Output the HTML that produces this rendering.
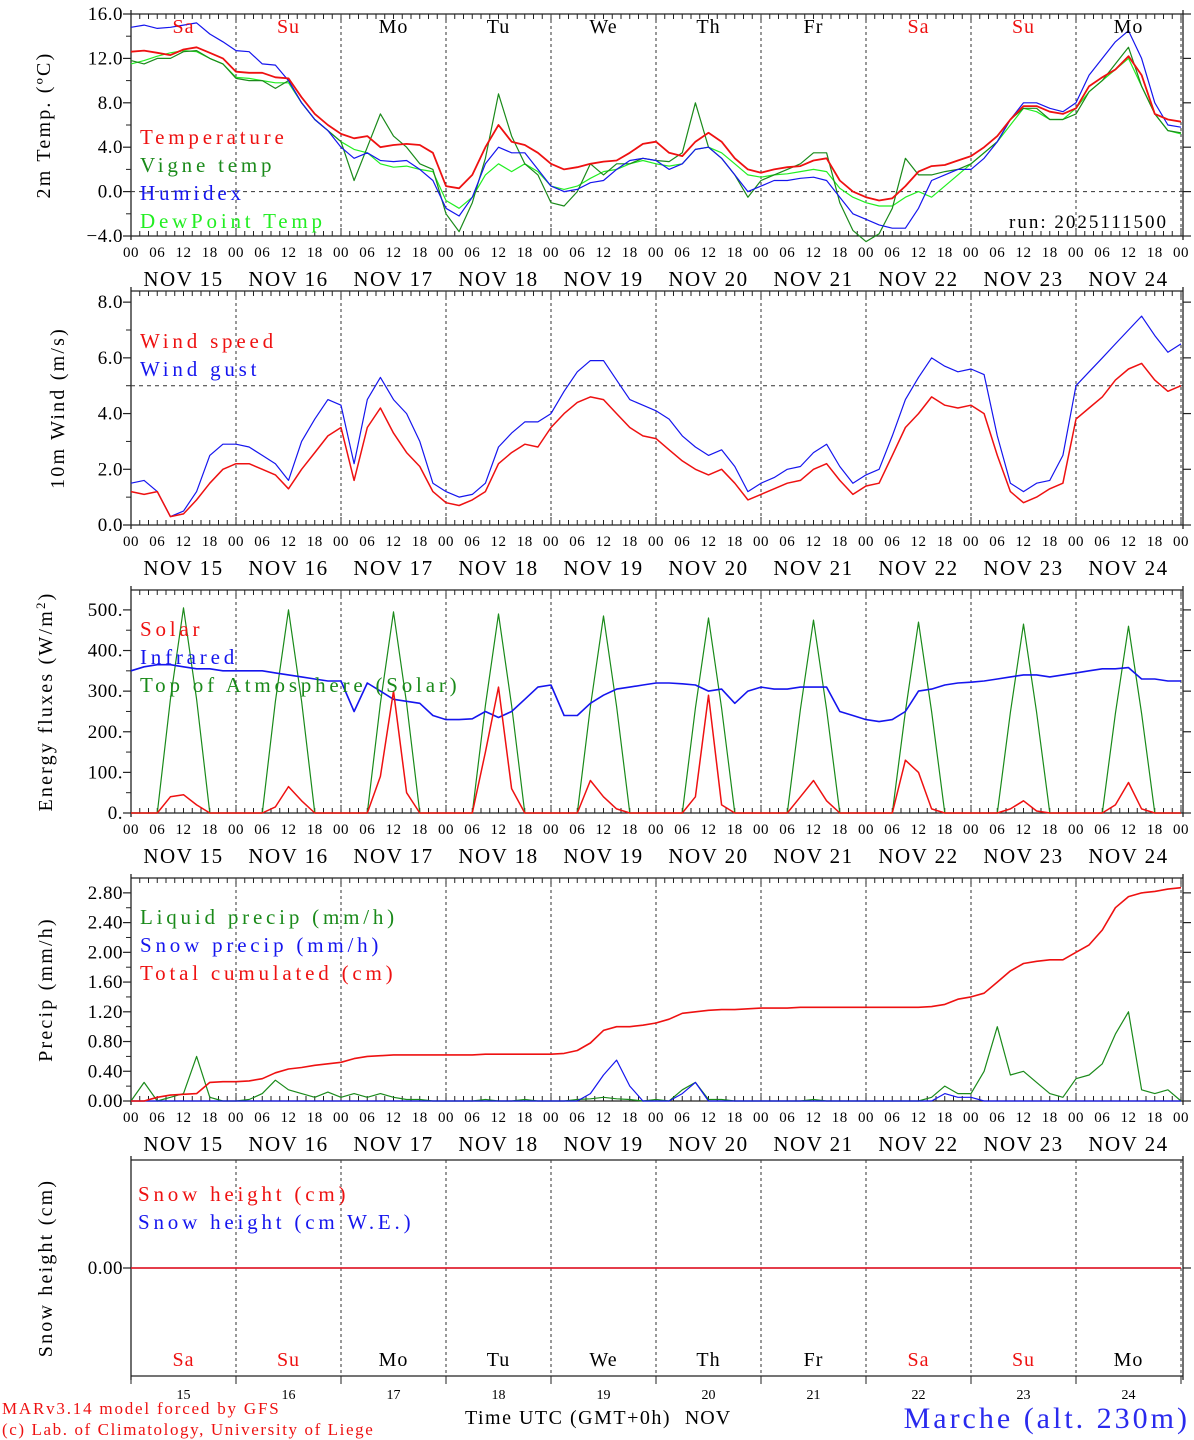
<!DOCTYPE html>
<html><head><meta charset="utf-8"><style>
body{margin:0;background:#fff;width:1194px;height:1440px;overflow:hidden}
svg{display:block}
text{font-family:"Liberation Serif","DejaVu Serif",serif}
</style></head><body>
<svg id="chart" width="1194" height="1440" xmlns="http://www.w3.org/2000/svg"></svg>
<script>
// ---- data (3-hourly, Nov 15 00UTC -> Nov 25 00UTC) ----
const days = ["15","16","17","18","19","20","21","22","23","24"];
const dayNames = ["Sa","Su","Mo","Tu","We","Th","Fr","Sa","Su","Mo"];
const temperature = [12.6,12.7,12.5,12.3,12.8,13.0,12.5,12.0, 10.8,10.7,10.7,10.3,10.2,8.5,7.0,6.0, 5.2,4.8,5.0,4.0,4.2,4.3,4.2,3.5, 0.5,0.3,1.5,4.0,6.0,4.5,4.2,3.5, 2.5,2.0,2.2,2.5,2.7,2.8,3.5,4.3, 4.5,3.5,3.2,4.5,5.3,4.5,3.0,2.0, 1.7,2.0,2.2,2.3,2.8,3.0,1.0,0.0, -0.5,-0.8,-0.6,0.5,1.8,2.3,2.4,2.8, 3.2,4.0,5.0,6.5,7.7,7.7,7.2,7.0, 7.5,9.5,10.3,11.0,12.2,10.5,7.0,6.5,6.3];
const vigneTemp = [11.8,11.5,12.0,12.0,12.6,12.7,12.0,11.5, 10.2,10.0,10.0,9.3,10.0,8.0,6.5,5.5, 4.5,1.0,4.0,7.0,5.0,4.0,2.5,2.0, -2.0,-3.6,-1.0,3.0,8.8,5.0,2.5,1.5, -1.0,-1.3,0.0,2.5,1.5,2.5,2.5,3.0, 2.8,2.7,3.5,8.0,4.0,3.0,1.5,-0.5, 1.0,1.5,2.0,2.5,3.5,3.5,-1.0,-3.5, -4.5,-3.8,-1.5,3.0,1.5,1.5,1.8,2.0, 2.5,3.5,4.5,6.5,7.5,7.5,6.5,6.5, 7.0,9.0,10.0,11.5,13.0,9.5,7.0,5.5,5.3];
const humidex = [14.8,15.0,14.7,14.8,15.0,15.2,14.2,13.5, 12.7,12.6,11.5,11.4,10.0,8.0,6.5,5.5, 4.0,3.0,3.5,2.8,2.7,2.8,2.0,1.0, -1.5,-2.2,-0.5,2.5,4.0,3.5,3.5,2.0, 0.5,0.0,0.2,0.8,1.0,2.0,2.8,3.0, 2.8,2.0,2.5,3.8,4.0,3.0,1.5,0.0, 0.5,1.0,1.0,1.2,1.3,1.0,-0.5,-2.0, -2.5,-3.0,-3.3,-3.3,-1.5,1.0,1.5,2.0, 2.0,3.0,4.5,6.5,8.0,8.0,7.5,7.2, 8.0,10.5,12.0,13.5,14.5,12.0,8.0,6.0,5.8];
const dewPoint = [11.5,11.8,12.2,12.5,12.7,12.6,12.0,11.5, 10.3,10.2,10.0,9.8,9.8,8.0,6.5,5.5, 4.5,3.8,3.5,2.5,2.2,2.3,2.0,1.8, -0.8,-1.5,-0.5,1.5,2.5,1.8,2.5,1.8, 0.5,0.2,0.5,1.2,1.8,2.0,2.5,2.8, 2.5,2.3,2.5,3.8,4.0,3.5,2.5,1.5, 1.3,1.5,1.6,1.8,2.0,1.8,0.3,-0.5, -1.0,-1.3,-1.3,-0.5,0.0,-0.5,0.5,1.5, 2.5,3.5,4.5,6.0,7.5,7.2,6.5,6.5, 7.5,9.0,10.0,11.0,12.0,9.5,7.0,5.5,5.2];
const windSpeed = [1.2,1.1,1.2,0.3,0.4,0.9,1.5,2.0, 2.2,2.2,2.0,1.8,1.3,2.0,2.6,3.2, 3.5,1.6,3.5,4.2,3.3,2.6,2.1,1.2, 0.8,0.7,0.9,1.2,2.2,2.6,2.9,2.8, 3.5,4.0,4.4,4.6,4.5,4.0,3.5,3.2, 3.1,2.7,2.3,2.0,1.8,2.0,1.5,0.9, 1.1,1.3,1.5,1.6,2.0,2.2,1.6,1.1, 1.4,1.5,2.5,3.5,4.0,4.6,4.3,4.2, 4.3,4.0,2.5,1.2,0.8,1.0,1.3,1.5, 3.8,4.2,4.6,5.2,5.6,5.8,5.2,4.8,5.0];
const windGust = [1.5,1.6,1.2,0.3,0.5,1.2,2.5,2.9, 2.9,2.8,2.5,2.2,1.6,3.0,3.8,4.5, 4.3,2.2,4.5,5.3,4.5,4.0,3.0,1.5, 1.2,1.0,1.1,1.5,2.8,3.3,3.7,3.7, 4.0,4.8,5.5,5.9,5.9,5.2,4.5,4.3, 4.1,3.8,3.2,2.8,2.5,2.7,2.1,1.2, 1.5,1.7,2.0,2.1,2.6,2.9,2.1,1.5, 1.8,2.0,3.2,4.5,5.3,6.0,5.7,5.5, 5.6,5.4,3.2,1.5,1.2,1.5,1.6,2.5, 5.0,5.5,6.0,6.5,7.0,7.5,6.8,6.2,6.5];
const solar = [0,0,0,40,45,20,0,0, 0,0,0,15,65,30,0,0, 0,0,0,90,300,50,0,0, 0,0,0,150,310,60,0,0, 0,0,0,80,40,10,0,0, 0,0,0,40,290,20,0,0, 0,0,0,40,80,30,0,0, 0,0,0,130,100,10,0,0, 0,0,0,10,30,5,0,0, 0,0,0,20,75,10,0,0,0];
const infrared = [350,360,365,365,360,355,355,350, 350,350,350,345,340,335,330,325, 325,250,320,300,280,275,270,240, 230,230,232,250,235,250,280,310, 315,240,240,270,290,305,310,315, 320,320,318,315,300,305,270,300, 310,305,305,310,310,310,250,240, 230,225,230,250,300,305,315,320, 322,325,330,335,340,340,335,340, 345,350,355,355,358,330,330,325,325];
const toaSolar = [0,0,0,280,505,280,0,0, 0,0,0,275,500,275,0,0, 0,0,0,270,495,270,0,0, 0,0,0,265,490,265,0,0, 0,0,0,262,485,262,0,0, 0,0,0,258,480,258,0,0, 0,0,0,255,475,255,0,0, 0,0,0,250,470,250,0,0, 0,0,0,248,465,248,0,0, 0,0,0,245,460,245,0,0,0];
const liquidPrecip = [0,0.25,0,0.05,0.1,0.6,0.05,0, 0,0.02,0.1,0.28,0.15,0.1,0.05,0.12, 0.05,0.1,0.05,0.1,0.05,0.02,0.02,0, 0,0,0,0.02,0,0,0.02,0, 0,0,0.02,0.03,0.05,0.03,0.02,0, 0.02,0,0.15,0.25,0.02,0.02,0,0, 0,0,0,0,0.02,0,0,0, 0,0,0,0,0,0.05,0.2,0.1, 0.1,0.4,1.0,0.35,0.4,0.25,0.1,0.05, 0.3,0.35,0.5,0.9,1.2,0.15,0.1,0.15,0];
const snowPrecip = [0,0,0,0,0,0,0,0, 0,0,0,0,0,0,0,0, 0,0,0,0,0,0,0,0, 0,0,0,0,0,0,0,0, 0,0,0,0.1,0.35,0.55,0.2,0, 0,0,0.1,0.25,0,0,0,0, 0,0,0,0,0,0,0,0, 0,0,0,0,0,0,0.1,0.05, 0.05,0,0,0,0,0,0,0, 0,0,0,0,0,0,0,0,0];
const totalCum = [0,0,0.05,0.08,0.09,0.1,0.25,0.26, 0.26,0.27,0.3,0.38,0.43,0.45,0.48,0.5, 0.52,0.57,0.6,0.61,0.62,0.62,0.62,0.62, 0.62,0.62,0.62,0.63,0.63,0.63,0.63,0.63, 0.63,0.64,0.68,0.78,0.95,1.0,1.0,1.02, 1.05,1.1,1.18,1.2,1.22,1.23,1.23,1.24, 1.25,1.25,1.25,1.26,1.26,1.26,1.26,1.26, 1.26,1.26,1.26,1.26,1.26,1.27,1.3,1.37, 1.4,1.45,1.6,1.75,1.85,1.88,1.9,1.9, 2.0,2.1,2.3,2.6,2.75,2.8,2.82,2.85,2.87];
const snowHeight = new Array(81).fill(0);
const snowHeightWE = new Array(81).fill(0);

// ---- drawing ----
const svg = document.getElementById('chart');
const NS = 'http://www.w3.org/2000/svg';
const X0 = 131, X1 = 1181, STEP = 3;
function xs(h){ return X0 + h*(X1-X0)/240; }
function mk(tag, attrs, parent){
  const e = document.createElementNS(NS, tag);
  for (const k in attrs) e.setAttribute(k, attrs[k]);
  (parent||svg).appendChild(e);
  return e;
}
function txt(s, x, y, size, color, anchor, ls, parent){
  const t = mk('text', {x:x, y:y, 'font-size':size, fill:color||'#000', 'text-anchor':anchor||'start'}, parent);
  if (ls) t.setAttribute('letter-spacing', ls);
  t.textContent = s;
  return t;
}
function panel(p){
  const g = mk('g', {});
  
  
  const ys = v => p.bottom - (v - p.min)*(p.bottom - p.top)/(p.max - p.min);
  mk('line',{x1:X0,y1:p.top,x2:1183,y2:p.top,stroke:'#222','stroke-width':1.3},g);
  mk('line',{x1:X0,y1:p.bottom,x2:1183,y2:p.bottom,stroke:'#222','stroke-width':1.3},g);
  mk('line',{x1:X0,y1:p.top-4,x2:X0,y2:p.bottom+4,stroke:'#222','stroke-width':1.3},g);
  mk('line',{x1:1183,y1:p.top-4,x2:1183,y2:p.bottom+4,stroke:'#222','stroke-width':1.3},g);
  if (p.hourTicks){
    for (let h=0; h<=240; h+=2){
      const x = xs(h), L = h%24===0?8:5;
      mk('line',{x1:x,y1:p.top,x2:x,y2:p.top+L,stroke:'#222','stroke-width':1},g);
      mk('line',{x1:x,y1:p.bottom,x2:x,y2:p.bottom-L,stroke:'#222','stroke-width':1},g);
    }
  } else {
    for (let d=0; d<=10; d++){ const x=xs(d*24);
      mk('line',{x1:x,y1:p.bottom,x2:x,y2:p.bottom+8,stroke:'#222','stroke-width':1},g); }
  }
  for (let d=1; d<10; d++){
    const x = xs(d*24);
    mk('line',{x1:x,y1:p.top,x2:x,y2:p.bottom,stroke:'#333','stroke-width':1,'stroke-dasharray':'3,3'},g);
  }
  mk('line',{x1:1181,y1:p.top,x2:1181,y2:p.bottom,stroke:'#333','stroke-width':1,'stroke-dasharray':'3,3'},g);
  p.yticks.forEach((v,i)=>{
    const y = ys(v);
    mk('line',{x1:X0-8,y1:y,x2:X0,y2:y,stroke:'#222','stroke-width':1.2},g);
    mk('line',{x1:1183,y1:y,x2:1191,y2:y,stroke:'#222','stroke-width':1.2},g);
    const t = txt(p.ylabels[i], 123, y+6, 19, '#000', 'end', '0.5', g);
    
    
  });
  (p.minor||[]).forEach(v=>{ const y=ys(v);
    mk('line',{x1:X0-5,y1:y,x2:X0,y2:y,stroke:'#222','stroke-width':1},g); });
  const tt = txt(p.title, 0, 0, 20, '#000', 'middle', '2.2', g);
  tt.setAttribute('transform','translate('+p.titleX+','+((p.top+p.bottom)/2)+') rotate(-90)');
  
  
  if (p.titleSup) tt.innerHTML = p.title;
  if (p.ref!==undefined) mk('line',{x1:X0,y1:ys(p.ref),x2:1183,y2:ys(p.ref),stroke:'#333','stroke-width':1,'stroke-dasharray':'4,4'},g);
  p.series.forEach(s=>{
    const pts = s.data.map((v,i)=>xs(i*STEP).toFixed(1)+','+ys(v).toFixed(1)).join(' ');
    const pl = mk('polyline',{points:pts,fill:'none',stroke:s.color,'stroke-width':s.w||1.2,'stroke-linejoin':'round'},g);
    
    
  });
  p.legend.forEach((l,i)=>{
    const t = txt(l[0], p.legX, p.legY + i*28, 21, l[1], 'start', '3.8', g);
    
    
  });
  if (p.xlabels){
    for (let d=0; d<=10; d++){
      for (let h=0; h<24; h+=6){
        if (d===10 && h>0) break;
        txt(String(h).padStart(2,'0'), xs(d*24+h), p.bottom+21, 15, '#000','middle','0.5',g);
      }
    }
    days.forEach((dd,i)=>{
      txt('NOV '+dd, xs(i*24+12), p.bottom+50, 21, '#000','middle','1.5',g);
    });
  }
  return {g, ys};
}

panel({name:'temperature-panel', top:14, bottom:236, min:-4, max:16, hourTicks:true,
  yticks:[16,12,8,4,0,-4], ylabels:['16.0','12.0','8.0','4.0','0.0','\u22124.0'], minor:[14,10,6,2,-2],
  title:'2m Temp. (\u00baC)', titleX:50, ref:0, xlabels:true,
  series:[{name:'dewpoint-line',data:dewPoint,color:'#22ee22'},{name:'vigne-temp-line',data:vigneTemp,color:'#1a8a1a'},
          {name:'humidex-line',data:humidex,color:'#1515ee'},{name:'temperature-line',data:temperature,color:'#ee1111',w:1.8}],
  legX:140, legY:144, legend:[['Temperature','#ee1111'],['Vigne temp','#1a8a1a'],['Humidex','#1515ee'],['DewPoint Temp','#22ee22']]});
dayNames.forEach((n,i)=>{ const t=txt(n, xs(i*24+12), 33, 20, (n==='Sa'||n==='Su')?'#ee1111':'#000','middle','1');
    });
txt('run: 2025111500', 1168, 228, 19, '#000', 'end', '2');

panel({name:'wind-panel', top:291, bottom:525, min:0, max:8.4, hourTicks:true,
  yticks:[8,6,4,2,0], ylabels:['8.0','6.0','4.0','2.0','0.0'], minor:[7,5,3,1],
  title:'10m Wind (m/s)', titleX:64, ref:5, xlabels:true,
  series:[{name:'wind-gust-line',data:windGust,color:'#1515ee'},{name:'wind-speed-line',data:windSpeed,color:'#ee1111',w:1.5}],
  legX:140, legY:348, legend:[['Wind speed','#ee1111'],['Wind gust','#1515ee']]});

panel({name:'energy-panel', top:590, bottom:813, min:0, max:549, hourTicks:true,
  yticks:[500,400,300,200,100,0], ylabels:['500.','400.','300.','200.','100.','0.'], minor:[450,350,250,150,50],
  title:'Energy fluxes (W/m<tspan dy="-7" font-size="13">2</tspan><tspan dy="7">)</tspan>', titleSup:true, titleX:52, xlabels:true,
  series:[{name:'toa-solar-line',data:toaSolar,color:'#1a8a1a'},{name:'infrared-line',data:infrared,color:'#1515ee',w:1.6},{name:'solar-line',data:solar,color:'#ee1111',w:1.5}],
  legX:140, legY:636, legend:[['Solar','#ee1111'],['Infrared','#1515ee'],['Top of Atmosphere (Solar)','#1a8a1a']]});

panel({name:'precip-panel', top:878, bottom:1101, min:0, max:3.0, hourTicks:true,
  yticks:[2.8,2.4,2.0,1.6,1.2,0.8,0.4,0], ylabels:['2.80','2.40','2.00','1.60','1.20','0.80','0.40','0.00'], minor:[2.6,2.2,1.8,1.4,1.0,0.6,0.2],
  title:'Precip (mm/h)', titleX:52, xlabels:true,
  series:[{name:'liquid-precip-line',data:liquidPrecip,color:'#1a8a1a'},{name:'snow-precip-line',data:snowPrecip,color:'#1515ee'},{name:'total-cumulated-line',data:totalCum,color:'#ee1111',w:1.6}],
  legX:140, legY:924, legend:[['Liquid precip (mm/h)','#1a8a1a'],['Snow precip (mm/h)','#1515ee'],['Total cumulated (cm)','#ee1111']]});

panel({name:'snow-panel', top:1160, bottom:1376, min:-1, max:1, hourTicks:false,
  yticks:[0], ylabels:['0.00'], title:'Snow height (cm)', titleX:52, xlabels:false,
  series:[{name:'snow-height-we-line',data:snowHeightWE,color:'#1515ee'},{name:'snow-height-line',data:snowHeight,color:'#ee1111',w:1.5}],
  legX:138, legY:1201, legend:[['Snow height (cm)','#ee1111'],['Snow height (cm W.E.)','#1515ee']]});
dayNames.forEach((n,i)=>{ const t=txt(n, xs(i*24+12), 1366, 20, (n==='Sa'||n==='Su')?'#ee1111':'#000','middle','1');
    });
days.forEach((d,i)=>{ txt(d, xs(i*24+12), 1399, 14, '#000','middle'); });
txt('Time UTC (GMT+0h)', 568, 1424, 20, '#000','middle','1.5');
txt('NOV', 708, 1424, 20, '#000','middle','1');
const c1 = txt('MARv3.14 model forced by GFS', 2, 1414, 17, '#ee1111','start','1.8');
 
const c2 = txt('(c) Lab. of Climatology, University of Liege', 2, 1435, 17, '#ee1111','start','1.6');
 
const st = txt('Marche (alt. 230m)', 1190, 1428, 30, '#2a2aee','end','3');
 
</script>
</body></html>
